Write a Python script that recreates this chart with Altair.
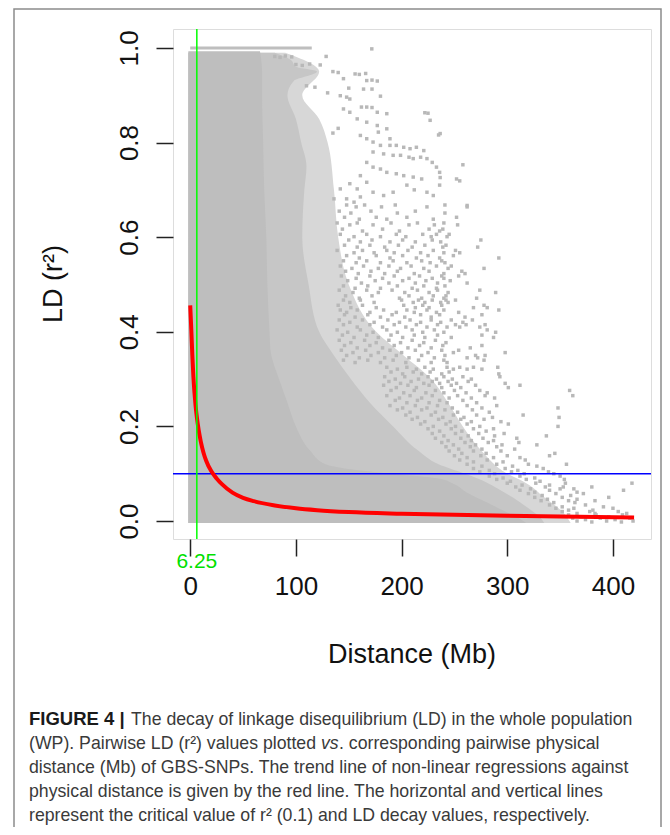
import altair as alt
import pandas as pd

# ---------------- data ----------------
# fitted LD decay (red) curve
decay_x = [0, 1, 2, 3, 4, 5, 6.25, 8, 10, 12.5, 15, 20, 25, 30, 40, 50, 60, 80,
           100, 120, 150, 200, 250, 300, 350, 420]
decay_r2 = [0.456, 0.405, 0.35, 0.305, 0.272, 0.245, 0.22, 0.192, 0.168, 0.145,
            0.128, 0.105, 0.09, 0.078, 0.06, 0.049, 0.042, 0.033, 0.027, 0.023,
            0.019, 0.0155, 0.013, 0.011, 0.0095, 0.0075]
critical_r2 = 0.1
ld_decay_mb = 6.25

# row of pairs with r2 = 1 (x from / to)
full_ld_x = [0, 115]
full_ld_r2 = [1.0, 1.0]

# saturated (solid) part of the cloud: r2 level -> right-most distance
core_r2 = [-0.004, 0.005, 0.02, 0.04, 0.06, 0.08, 0.09, 0.1, 0.11, 0.12, 0.15,
           0.2, 0.25, 0.3, 0.36, 0.4, 0.5, 0.6, 0.7, 0.8, 0.9, 0.95, 0.993]
core_xmax = [318, 312, 298, 280, 262, 248, 235, 190, 150, 128, 113,
             100, 92, 84, 76, 75, 73, 72, 70, 69, 68, 68, 66]

# heavily speckled part of the cloud
inner_r2 = [-0.004, 0.01, 0.03, 0.05, 0.07, 0.09, 0.1, 0.12, 0.15, 0.2, 0.25, 0.3,
            0.35, 0.4, 0.5, 0.6, 0.7, 0.75, 0.8, 0.85, 0.9, 0.93, 0.95, 0.96, 0.975, 0.99]
inner_xmax = [335, 330, 318, 305, 290, 272, 260, 235, 215, 192, 170, 152,
              136, 122, 112, 106, 108, 110, 105, 100, 92, 98, 120, 100, 95, 80]

# lightly speckled part of the cloud
outer_r2 = [-0.004, 0.02, 0.05, 0.08, 0.1, 0.15, 0.2, 0.25, 0.3, 0.35, 0.4, 0.5,
            0.6, 0.7, 0.8, 0.85, 0.9, 0.95, 0.99]
outer_xmax = [360, 352, 335, 318, 300, 275, 258, 244, 228, 202, 176, 150,
              140, 136, 130, 122, 106, 122, 90]

# scattered pairs, upper part (distance, r2)
upper_pairs = [
    (171.8, 0.998),
    (80, 0.982), (85, 0.98), (90, 0.983), (96, 0.981), (128.6, 0.982),
    (100, 0.965), (106, 0.963), (113, 0.966), (123, 0.964),
    (156, 0.945), (160, 0.944), (166, 0.946), (135, 0.95), (140, 0.948),
    (167, 0.931), (172, 0.932), (177, 0.93), (145, 0.935),
    (164, 0.913), (172, 0.913), (150, 0.915), (110, 0.92), (118, 0.917),
    (142, 0.899), (148, 0.896), (151, 0.892), (180, 0.898), (130, 0.905),
    (162, 0.875), (167, 0.875), (172, 0.874), (145, 0.871), (151, 0.864),
    (177, 0.864), (186, 0.861), (222, 0.863), (225, 0.862), (227, 0.847),
    (158, 0.85), (167, 0.843), (177, 0.836), (178, 0.822), (186, 0.829),
    (189, 0.808), (235, 0.816), (236.5, 0.819),
    (161, 0.815), (167, 0.808), (173, 0.801), (140, 0.83), (135, 0.82),
    (180, 0.794), (189, 0.794), (195, 0.794), (202, 0.79), (208, 0.787),
    (214, 0.79), (221, 0.783),
    (173, 0.78), (183, 0.776), (192, 0.773), (199, 0.773), (207, 0.769),
    (211, 0.766), (218, 0.769), (224, 0.766), (229, 0.758), (233, 0.748),
    (236, 0.737), (236.5, 0.726),
    (167, 0.758), (173, 0.748), (180, 0.744), (186, 0.737), (195, 0.734),
    (202, 0.73), (211, 0.727), (219, 0.723), (258, 0.753), (252, 0.723),
    (255, 0.719),
    (161, 0.73), (167, 0.716), (151, 0.713), (158, 0.702), (173, 0.695),
    (183, 0.688), (192, 0.695), (224, 0.695), (230, 0.688), (236, 0.71),
    (142, 0.702), (136, 0.681), (148, 0.681), (155, 0.674), (161, 0.685),
    (262, 0.667), (205, 0.71), (212, 0.7),
]

# scattered pairs, middle part: r2 level -> distances
middle_rows = [
    (0.668, [148, 165, 194, 241]), (0.664, [157, 181, 224, 262]),
    (0.655, [141, 171, 213]), (0.651, [152, 196, 241]),
    (0.642, [146, 176, 205, 252]), (0.638, [160, 186, 230]),
    (0.630, [139, 158, 190, 215, 240]), (0.626, [151, 173, 207, 231, 253]),
    (0.617, [144, 182, 226, 239]), (0.613, [163, 198, 236]),
    (0.606, [142, 167, 195, 220, 233, 245]), (0.601, [155, 180, 204, 228, 243]),
    (0.594, [150, 172, 201, 229, 275]), (0.590, [161, 189, 213, 237]),
    (0.583, [146, 170, 197, 222, 242]), (0.579, [158, 184, 210, 239, 272]),
    (0.572, [139, 163, 186, 206, 230, 251]), (0.567, [155, 174, 193, 218, 240, 255]),
    (0.561, [148, 176, 201, 225, 249]), (0.556, [160, 189, 214, 236, 292]),
    (0.550, [145, 167, 192, 219, 238]), (0.546, [157, 180, 205, 227, 241]),
    (0.539, [142, 164, 188, 209, 233, 247]), (0.534, [153, 178, 199, 221, 244, 278]),
    (0.528, [147, 171, 196, 226, 257]), (0.523, [159, 184, 212, 240, 260]),
    (0.518, [143, 170, 193, 217, 238, 254]), (0.513, [157, 182, 207, 229, 240]),
    (0.508, [149, 175, 201, 223, 246]), (0.503, [162, 188, 213, 234, 262]),
    (0.497, [145, 168, 196, 221, 241]), (0.492, [156, 180, 210, 233]),
    (0.488, [141, 167, 191, 215, 234, 274]), (0.483, [154, 178, 203, 226, 244, 289]),
    (0.476, [147, 172, 207, 230, 242]), (0.471, [160, 198, 219, 240, 271]),
    (0.467, [145, 161, 200, 216, 229, 242, 251]), (0.462, [151, 174, 211, 222, 237, 244]),
    (0.456, [140, 163, 202, 220, 238, 278]), (0.451, [152, 176, 213, 226, 268, 281]),
    (0.446, [142, 158, 183, 205, 224, 240, 292]), (0.441, [148, 170, 195, 212, 233, 254]),
    (0.436, [146, 168, 191, 218, 236, 276]), (0.431, [156, 180, 203, 228, 260]),
    (0.425, [141, 163, 187, 208, 228, 247, 267]), (0.420, [151, 174, 198, 218, 237, 258]),
    (0.415, [145, 170, 193, 214, 234, 251, 261, 279]),
    (0.410, [158, 182, 204, 224, 243, 255, 274]),
    (0.404, [139, 161, 186, 210, 231, 281]), (0.399, [149, 173, 196, 220, 240, 289]),
    (0.393, [144, 167, 190, 212, 234, 276]), (0.388, [155, 178, 201, 222, 247, 287]),
    (0.382, [141, 165, 188, 210, 232]), (0.377, [152, 176, 199, 221, 242]),
    (0.371, [146, 170, 193, 217, 239, 276]), (0.366, [158, 182, 206, 228, 265]),
    (0.361, [143, 166, 189, 213, 238, 254]), (0.356, [154, 178, 200, 225, 249, 298]),
    (0.350, [148, 171, 195, 219, 241, 270, 279]), (0.345, [160, 184, 207, 231, 262, 272]),
    (0.340, [145, 168, 192, 216, 240, 278]), (0.335, [156, 180, 204, 228, 243]),
]

# scattered pairs, lower part: r2 level -> distances
lower_rows = [
    (0.325, [186, 205, 222, 243, 255, 268, 291]), (0.321, [196, 214, 230, 249, 262, 276]),
    (0.315, [190, 211, 227, 245]), (0.311, [201, 219, 238, 292]),
    (0.305, [184, 203, 225, 240, 258, 293]), (0.300, [194, 216, 233, 248, 266]),
    (0.295, [188, 209, 229, 244, 263]), (0.291, [199, 221, 236, 252, 298]),
    (0.287, [183, 206, 226, 247, 270, 312]), (0.282, [195, 214, 238, 256, 301]),
    (0.276, [190, 212, 232, 250, 274, 359]), (0.271, [202, 223, 240, 261, 281]),
    (0.265, [186, 208, 229, 253, 279, 362]), (0.260, [198, 219, 245, 266, 288]),
    (0.255, [194, 215, 236, 258]), (0.250, [205, 226, 243, 271]),
    (0.244, [189, 213, 234, 262, 290]), (0.239, [201, 224, 248, 276, 348]),
    (0.235, [196, 219, 241, 267]), (0.230, [208, 232, 253, 283]),
    (0.224, [204, 228, 249, 271, 315]), (0.219, [215, 239, 259, 286, 349]),
    (0.215, [210, 235, 256, 278]), (0.210, [222, 246, 266, 294]),
    (0.205, [218, 242, 262, 301]), (0.200, [230, 251, 274, 348]),
    (0.195, [225, 247, 268, 287]), (0.190, [236, 257, 280]),
    (0.185, [229, 251, 273, 297]), (0.180, [240, 263, 288, 337]),
    (0.175, [232, 256, 277, 309]), (0.170, [244, 266, 287]),
    (0.166, [238, 260, 282, 311]), (0.161, [249, 270, 295, 328]),
    (0.157, [242, 265, 290]), (0.152, [254, 276, 307]),
    (0.148, [245, 268, 294]), (0.143, [257, 280, 345]),
    (0.138, [250, 275, 300, 340]), (0.134, [262, 287, 312]),
    (0.129, [255, 281, 317]), (0.125, [268, 296]),
    (0.120, [262, 290, 320, 356]), (0.116, [276, 305, 328]),
    (0.111, [268, 298, 334]), (0.107, [283, 310]),
    (0.104, [274, 304, 339]), (0.100, [288, 316, 344]),
    (0.095, [283, 312, 350]), (0.091, [296, 326]),
    (0.088, [290, 318, 354]), (0.084, [303, 331]),
    (0.080, [300, 327, 355, 418]), (0.076, [314, 340]),
    (0.072, [308, 336, 353, 380]), (0.068, [322, 350, 363]),
    (0.065, [312, 340, 410]), (0.061, [326, 366]),
    (0.058, [320, 346, 372]), (0.054, [333, 360]),
    (0.050, [326, 352, 396]), (0.046, [338, 366]),
    (0.043, [332, 358, 383]), (0.039, [344, 364]),
    (0.034, [340, 374]), (0.030, [352, 391]),
    (0.027, [346, 363, 400]), (0.023, [358, 381]),
    (0.020, [352, 378, 405]), (0.016, [366, 383, 413]),
    (0.013, [358, 384, 409]), (0.009, [370, 396]),
    (0.006, [362, 388, 416]), (0.003, [374, 402]),
    (0.000, [366, 394, 419]), (-0.002, [380, 408]),
]

x_ticks = [0, 100, 200, 300, 400]
y_ticks = [0.0, 0.2, 0.4, 0.6, 0.8, 1.0]

x_title = "Distance (Mb)"
y_title = "LD (r\u00b2)"
caption_bold = "FIGURE 4 |"
caption_line1 = "The decay of linkage disequilibrium (LD) in the whole population"
caption_line2a = "(WP). Pairwise LD (r\u00b2) values plotted"
caption_line2b = "vs"
caption_line2c = ". corresponding pairwise physical"
caption_line3 = "distance (Mb) of GBS-SNPs. The trend line of non-linear regressions against"
caption_line4 = "physical distance is given by the red line. The horizontal and vertical lines"
caption_line5 = "represent the critical value of r\u00b2 (0.1) and LD decay values, respectively."

# ---------------- tables ----------------
pts = list(upper_pairs)
for r2, xs_ in middle_rows + lower_rows:
    pts += [(x, r2) for x in xs_]
points_df = pd.DataFrame(pts, columns=["dist", "r2"])
core_df = pd.DataFrame({"r2": core_r2, "dist": core_xmax, "d0": -1.8})
inner_df = pd.DataFrame({"r2": inner_r2, "dist": inner_xmax, "d0": -1.8})
outer_df = pd.DataFrame({"r2": outer_r2, "dist": outer_xmax, "d0": -1.8})
full_df = pd.DataFrame({"dist": full_ld_x, "r2": full_ld_r2})
curve_df = pd.DataFrame({"dist": decay_x, "r2": decay_r2})
hline_df = pd.DataFrame({"r2": [critical_r2]})
vline_df = pd.DataFrame({"dist": [ld_decay_mb], "label": [f"{ld_decay_mb:g}"]})
one = pd.DataFrame({"k": [0]})

GRAY = "#BEBEBE"
FONT = "Liberation Sans"

xs = alt.Scale(domain=[-16.3, 436], nice=False, zero=False)
ys = alt.Scale(domain=[-0.038, 1.04], nice=False, zero=False)
xa = alt.Axis(values=x_ticks, title=None, grid=False, domain=False, tickSize=17,
              tickWidth=1.5, tickColor="#222", labelFontSize=26, labelFont=FONT,
              labelColor="#111", labelPadding=17, labelFlush=False, labelOverlap=False,
              format="d")
ya = alt.Axis(values=y_ticks, title=None, grid=False, domain=False, tickSize=17,
              tickWidth=1.5, tickColor="#222", labelFontSize=26, labelFont=FONT,
              labelColor="#111", labelAngle=270, labelAlign="center",
              labelBaseline="alphabetic", labelPadding=19, labelFlush=False,
              labelOverlap=False, format=".1f")


def X(f="dist"):
    return alt.X(f"{f}:Q", scale=xs, axis=xa)


def Y(f="r2"):
    return alt.Y(f"{f}:Q", scale=ys, axis=ya)


def band(df, color):
    return alt.Chart(df).mark_area(orient="horizontal", color=color,
                                   interpolate="monotone").encode(
        y=Y(), x=X(), x2="d0:Q")


outer = band(outer_df, "#D7D7D7")
inner = band(inner_df, "#C6C6C6")
core = band(core_df, GRAY)
full = alt.Chart(full_df).mark_line(color=GRAY, strokeWidth=3).encode(x=X(), y=Y())
scatter = alt.Chart(points_df).mark_square(color="#B8B8B8", size=12, opacity=1).encode(
    x=X(), y=Y())
hline = alt.Chart(hline_df).mark_rule(color="#0000FF", strokeWidth=1.5).encode(y=Y())
vline = alt.Chart(vline_df).mark_rule(color="#00FF00", strokeWidth=1.5).encode(x=X())
curve = alt.Chart(curve_df).mark_line(color="#FF0000", strokeWidth=4,
                                       interpolate="monotone").encode(x=X(), y=Y())
vlabel = alt.Chart(vline_df).mark_text(color="#00E000", fontSize=21, font=FONT,
                                        baseline="alphabetic").encode(
    x=X(), y=alt.value(539), text="label:N")


def txt(s, x, y, size, angle=0, align="left", weight="normal", style="normal",
        color="#111", baseline="alphabetic"):
    return alt.Chart(one).mark_text(
        text=s, fontSize=size, font=FONT, angle=angle, align=align,
        baseline=baseline, fontWeight=weight, fontStyle=style, color=color
    ).encode(x=alt.value(x), y=alt.value(y))


CAP = 17.7
CAPC = "#3a3a3a"
texts = [
    txt(y_title, -119, 255, 27, angle=270, align="center", baseline="middle"),
    txt(x_title, 239, 634, 27, align="center"),
    txt(caption_bold, -144, 696, 18.5, weight="bold", color="#1a1a1a"),
    txt(caption_line1, -42, 696, CAP, color=CAPC),
    txt(caption_line2a, -144, 720, CAP, color=CAPC),
    txt(caption_line2b, 148, 720, CAP, style="italic", color=CAPC),
    txt(caption_line2c, 166, 720, CAP, color=CAPC),
    txt(caption_line3, -144, 744, CAP, color=CAPC),
    txt(caption_line4, -144, 768, CAP, color=CAPC),
    txt(caption_line5, -144, 792, CAP, color=CAPC),
]

border = alt.Chart(one).mark_rect(fillOpacity=0, stroke="#8c8c8c", strokeWidth=1.5).encode(
    x=alt.value(-159), x2=alt.value(488), y=alt.value(-20), y2=alt.value(830))

chart = alt.layer(
    outer, inner, core, full, scatter, hline, curve, vline, vlabel, *texts, border
).properties(
    width=478, height=510,
    autosize=alt.AutoSizeParams(type="none"),
    padding={"left": 165, "top": 21, "right": 11, "bottom": 288},
).configure_view(stroke="#222", strokeWidth=1.5).configure(background="white")

chart.save("out.html", embed_options={"renderer": "svg", "actions": False})
